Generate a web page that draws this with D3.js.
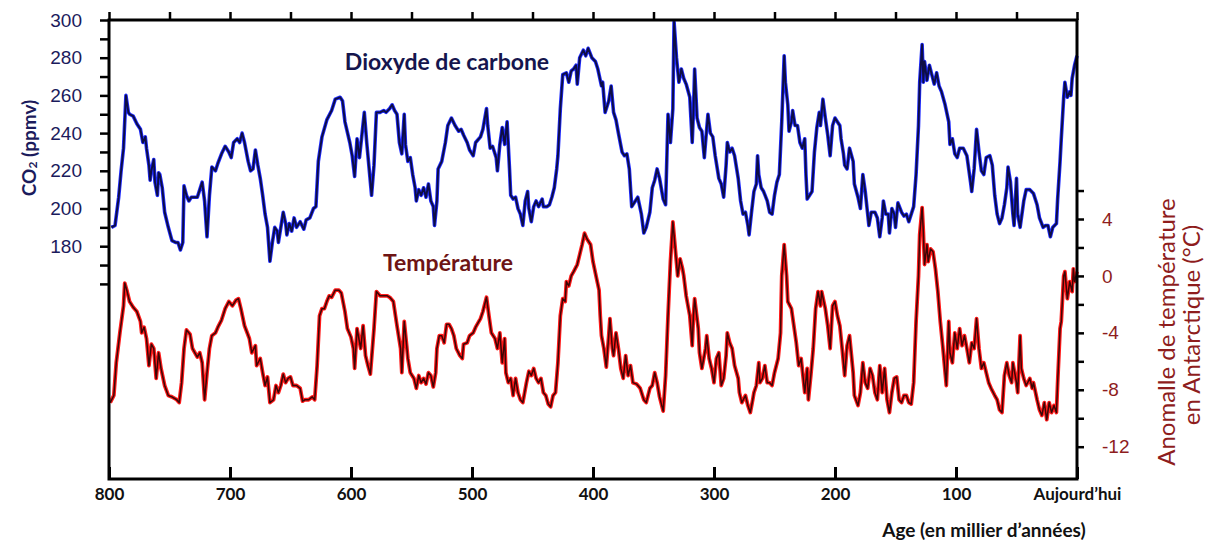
<!DOCTYPE html>
<html>
<head>
<meta charset="utf-8">
<script src="https://cdn.jsdelivr.net/npm/d3@7"></script>
<style>
  body { margin: 0; background: #fff; }
</style>
</head>
<body>
<div id="chart"></div>
<script>
// CO2 record: [age in ka, ppmv]
const co2Series = [
  [798,190],[795,191],[792,206],[790,220],[788,232],[786,260],[784,251],[783,250],[780,249],[777,245],
  [774,242],[772,235],[770,238],[769,232],[767,223],[766,215],[765,220],[763,226],[762,214],[760,207],
  [759,219],[758,218],[756,211],[754,198],[751,190],[748,183],[745,182],[743,182],[741,178],[739,182],
  [738,212],[736,207],[734,204],[732,206],[727,206],[723,214],[721,204],[719,185],[717,207],[715,222],
  [712,220],[710,224],[707,229],[704,233],[701,230],[699,227],[697,235],[694,237],[692,235],[690,240],
  [688,235],[685,225],[683,220],[681,221],[679,231],[677,223],[675,216],[673,207],[671,197],[669,190],
  [667,172],[665,182],[663,190],[661,188],[660,182],[658,190],[656,198],[654,192],[653,186],[651,192],
  [649,188],[647,195],[645,190],[642,193],[639,189],[637,194],[634,195],[631,200],[629,201],[627,225],
  [624,238],[620,247],[616,252],[613,258],[609,259],[607,257],[605,246],[601,235],[599,228],[597,217],
  [595,237],[593,227],[591,239],[589,251],[587,235],[585,221],[583,207],[581,223],[579,251],[576,251],
  [573,252],[571,251],[568,253],[566,255],[564,252],[562,250],[560,235],[558,229],[556,250],[555,234],
  [553,225],[551,227],[549,218],[547,211],[546,204],[544,210],[542,207],[540,211],[538,206],[536,213],
  [534,204],[532,201],[531,191],[529,204],[528,221],[525,225],[522,235],[520,244],[517,248],[514,244],
  [511,241],[509,242],[507,239],[504,235],[502,231],[499,228],[497,235],[493,238],[491,242],[488,253],
  [487,244],[485,232],[483,233],[480,227],[479,220],[477,234],[475,243],[473,234],[471,246],[469,221],
  [468,207],[466,205],[464,206],[462,200],[460,197],[458,191],[456,204],[454,209],[453,200],[451,193],
  [449,201],[447,204],[445,201],[442,205],[441,201],[438,201],[436,202],[434,206],[432,211],[430,221],
  [429,228],[427,253],[425,271],[422,272],[420,267],[418,273],[416,274],[414,276],[413,266],[411,280],
  [408,284],[406,281],[404,285],[401,280],[398,278],[396,274],[393,265],[392,267],[390,251],[387,257],
  [385,265],[383,251],[381,247],[379,240],[376,230],[374,228],[372,229],[370,221],[368,201],[365,204],
  [363,206],[360,197],[358,187],[356,190],[353,198],[351,211],[349,215],[347,221],[345,216],[342,205],
  [340,202],[338,250],[336,235],[334,253],[333,299],[331,280],[329,267],[327,274],[325,269],[323,266],
  [320,259],[318,235],[317,251],[316,274],[314,248],[312,243],[310,241],[308,227],[307,235],[305,250],
  [303,240],[301,238],[299,228],[296,216],[294,213],[292,206],[290,223],[289,235],[287,230],[285,232],
  [283,228],[280,216],[278,204],[276,197],[274,198],[272,191],[271,186],[269,198],[267,209],[265,213],
  [264,228],[263,218],[261,211],[259,209],[256,204],[254,198],[252,197],[250,207],[248,214],[246,218],
  [244,246],[242,281],[241,267],[239,255],[238,241],[236,246],[235,252],[233,244],[231,244],[229,235],
  [227,232],[225,237],[224,218],[223,205],[221,207],[219,209],[217,230],[215,243],[213,251],[212,244],
  [210,258],[208,248],[206,239],[204,228],[202,244],[200,248],[197,245],[196,244],[195,237],[193,229],
  [192,223],[190,221],[188,232],[185,225],[184,213],[181,206],[179,200],[177,218],[175,209],[173,197],
  [172,191],[170,198],[167,198],[165,195],[163,185],[161,195],[160,204],[158,197],[156,197],[155,187],
  [153,200],[151,197],[150,190],[148,203],[145,198],[143,196],[141,197],[139,193],[137,197],[135,201],
  [133,218],[131,244],[130,267],[128,287],[127,267],[126,278],[124,268],[122,276],[120,271],[118,266],
  [116,272],[114,265],[112,262],[109,255],[106,246],[105,234],[103,237],[101,229],[99,227],[97,232],
  [94,232],[91,228],[88,214],[87,209],[85,221],[83,242],[81,230],[79,220],[77,218],[75,227],
  [72,228],[70,223],[68,207],[66,197],[64,192],[62,195],[60,202],[58,211],[57,222],[55,214],
  [53,197],[52,191],[50,216],[49,197],[47,190],[44,204],[42,210],[39,210],[36,208],[33,202],
  [31,195],[28,190],[26,191],[24,191],[22,185],[20,190],[17,192],[16,205],[14,225],[13,237],
  [11,259],[10,267],[8,259],[6,262],[5,260],[4,269],[2,276],[0,281]
];

// Antarctic temperature anomaly: [age in ka, °C]
const tempSeries = [
  [799,-8.9],[796,-8.4],[794,-6.1],[791,-4.0],[788,-2.1],[787,-0.5],[785,-1.1],[783,-1.8],[780,-2.2],[777,-2.5],
  [774,-3.2],[773,-4.0],[771,-3.6],[769,-4.4],[767,-6.3],[765,-4.8],[763,-5.1],[761,-7.2],[759,-5.4],[757,-6.5],
  [754,-7.7],[751,-8.4],[748,-8.5],[744,-8.7],[742,-8.9],[740,-7.5],[738,-5.1],[736,-3.8],[733,-4.1],[731,-5.1],
  [729,-5.4],[727,-5.7],[725,-5.4],[723,-6.1],[721,-8.7],[719,-6.8],[717,-5.1],[715,-4.2],[712,-4.0],[710,-3.6],
  [707,-3.1],[704,-2.3],[701,-1.8],[698,-2.1],[695,-1.7],[693,-1.6],[691,-2.3],[688,-3.5],[684,-4.4],[682,-5.4],
  [679,-4.9],[678,-6.3],[675,-5.8],[673,-6.8],[671,-7.7],[669,-7.1],[667,-8.9],[664,-8.7],[662,-7.7],[660,-8.2],
  [658,-7.7],[656,-6.9],[654,-7.5],[652,-7.2],[650,-7.1],[648,-7.7],[645,-7.7],[642,-7.9],[640,-8.8],[638,-8.7],
  [635,-8.7],[632,-8.5],[630,-8.7],[628,-6.3],[626,-2.8],[624,-2.3],[622,-2.3],[620,-1.8],[618,-1.4],[616,-1.5],
  [613,-1.0],[610,-1.0],[608,-1.2],[605,-2.5],[603,-3.7],[600,-4.3],[598,-5.1],[597,-6.5],[595,-3.7],[592,-5.1],
  [590,-3.5],[588,-5.6],[586,-6.3],[584,-6.9],[581,-3.7],[579,-1.1],[576,-1.4],[573,-1.4],[570,-1.4],[568,-1.5],
  [565,-1.8],[562,-3.5],[559,-5.1],[558,-6.8],[556,-3.2],[554,-4.9],[553,-5.8],[551,-6.8],[548,-7.2],[546,-7.9],
  [544,-7.0],[542,-7.5],[540,-7.2],[538,-7.6],[536,-6.8],[534,-7.0],[532,-7.8],[530,-6.8],[529,-5.1],[527,-4.2],
  [525,-4.2],[523,-4.7],[521,-3.4],[519,-3.4],[517,-3.7],[515,-4.2],[513,-5.1],[510,-5.6],[508,-5.8],[507,-4.8],
  [504,-4.7],[502,-4.2],[499,-4.0],[497,-3.6],[493,-3.0],[491,-2.5],[488,-1.5],[486,-2.8],[484,-4.0],[481,-4.4],
  [479,-5.1],[477,-4.0],[475,-6.1],[473,-4.4],[472,-6.8],[470,-7.5],[468,-7.2],[466,-8.4],[464,-7.2],[462,-8.2],
  [460,-8.7],[458,-8.9],[455,-7.5],[453,-6.7],[451,-7.0],[449,-6.5],[447,-7.2],[445,-7.5],[443,-7.2],[441,-8.2],
  [439,-8.4],[437,-9.0],[435,-9.2],[433,-8.4],[431,-8.2],[429,-6.1],[427,-2.8],[425,-1.6],[423,-1.8],[422,-0.4],
  [420,-0.7],[418,0.0],[416,0.3],[413,0.8],[411,1.5],[409,2.2],[407,3.0],[405,2.6],[402,2.2],[400,1.0],
  [397,-0.2],[395,-1.0],[394,-2.8],[393,-4.2],[391,-5.1],[389,-6.4],[387,-4.2],[386,-3.0],[384,-5.1],[383,-5.6],
  [381,-4.0],[379,-5.1],[377,-6.5],[375,-7.2],[373,-5.6],[371,-7.0],[369,-6.3],[367,-7.5],[364,-7.6],[361,-7.9],
  [358,-8.7],[356,-8.9],[353,-7.9],[351,-7.7],[349,-6.8],[347,-7.5],[345,-8.5],[342,-9.5],[340,-7.0],[338,-2.8],
  [336,1.0],[334,3.8],[332,1.9],[330,0.0],[328,1.2],[326,0.5],[325,0.0],[323,-1.4],[320,-2.8],[318,-4.9],
  [317,-2.8],[316,-1.6],[313,-3.7],[312,-5.4],[310,-6.5],[307,-5.1],[306,-4.2],[304,-5.8],[302,-6.5],[300,-7.5],
  [298,-5.8],[296,-5.4],[294,-7.7],[292,-7.2],[290,-5.6],[289,-4.0],[287,-4.7],[285,-5.1],[283,-6.3],[280,-7.2],
  [279,-8.2],[277,-8.9],[274,-8.4],[272,-9.1],[270,-9.6],[268,-8.7],[267,-8.2],[265,-7.7],[263,-6.1],[262,-7.5],
  [260,-7.2],[258,-6.3],[256,-7.5],[254,-7.5],[252,-7.7],[250,-6.8],[247,-5.8],[245,-4.0],[244,0.0],[242,2.2],
  [240,0.0],[239,-1.8],[236,-2.3],[234,-3.5],[232,-4.7],[230,-6.3],[228,-5.8],[225,-8.2],[223,-6.5],[222,-8.7],
  [220,-7.0],[218,-5.1],[216,-2.3],[214,-1.1],[212,-2.1],[211,-1.1],[208,-2.3],[206,-3.5],[204,-5.1],[202,-2.1],
  [200,-1.8],[198,-2.8],[196,-3.5],[194,-5.2],[192,-7.0],[190,-4.9],[188,-4.2],[185,-6.8],[184,-8.4],[181,-9.1],
  [179,-8.2],[177,-6.1],[175,-7.5],[173,-7.9],[171,-6.5],[169,-7.0],[167,-8.2],[165,-8.7],[163,-6.3],[161,-8.2],
  [159,-6.5],[157,-8.7],[155,-9.6],[153,-8.2],[151,-7.2],[149,-7.1],[147,-8.7],[145,-8.9],[143,-8.4],[141,-8.4],
  [139,-8.9],[137,-9.0],[135,-7.5],[133,-3.2],[131,0.0],[130,2.9],[128,4.8],[127,3.1],[126,0.8],[124,2.2],
  [123,1.0],[121,1.9],[119,1.7],[117,0.5],[115,-1.1],[113,-3.2],[111,-4.9],[108,-7.7],[106,-3.2],[105,-5.4],
  [103,-6.1],[101,-4.0],[99,-5.1],[97,-3.7],[95,-4.9],[93,-4.2],[91,-5.1],[89,-6.1],[87,-4.7],[85,-5.1],
  [83,-3.0],[81,-5.1],[79,-6.5],[77,-6.1],[75,-6.8],[73,-7.5],[71,-7.9],[68,-8.4],[66,-8.7],[64,-9.4],
  [62,-9.6],[60,-7.0],[58,-6.1],[56,-7.0],[54,-7.5],[53,-6.1],[50,-7.5],[49,-8.2],[47,-4.2],[46,-6.5],
  [44,-7.2],[42,-7.7],[39,-7.2],[37,-7.9],[36,-7.5],[33,-8.7],[31,-9.4],[29,-9.8],[27,-8.9],[25,-10.1],
  [23,-8.9],[21,-9.6],[19,-9.1],[17,-9.6],[16,-7.5],[14,-3.7],[13,-3.2],[11,0.0],[10,0.3],[8,-1.6],
  [6,-0.4],[4,-1.1],[3,0.5],[2,-0.4],[0,0.3]
];

// Axis ticks and labels
const ageTicks = [800, 700, 600, 500, 400, 300, 200, 100, 0];
const ageLabels = ["800", "700", "600", "500", "400", "300", "200", "100", "Aujourd’hui"];
const ageTopTicks = [800, 750, 700, 650, 600, 550, 500, 450, 400, 350, 300, 250, 200, 150, 100, 50, 0];
const co2Ticks = [160, 170, 180, 190, 200, 210, 220, 230, 240, 250, 260, 270, 280, 290, 300];
const co2Labels = [180, 200, 220, 240, 260, 280, 300];
const tempTicks = [-12, -10, -8, -6, -4, -2, 0, 2, 4, 6];
const tempLabels = [-12, -8, -4, 0, 4];

// Chart dimensions and margins
const width = 1205;
const height = 543;
const marginTop = 20;
const marginRight = 128;
const marginBottom = 64;
const marginLeft = 109;

const navy = "#1b1b5c";
const darkRed = "#8e1d1d";

const x = d3.scaleLinear()
    .domain([800, 0])
    .range([marginLeft, width - marginRight]);

// CO2 occupies the upper part of the frame
const yCo2 = d3.scaleLinear()
    .domain([180, 300])
    .range([246.2, marginTop]);

// temperature occupies the lower part
const yTemp = d3.scaleLinear()
    .domain([-12, 4])
    .range([446.7, 219]);

const svg = d3.select("#chart")
  .append("svg")
    .attr("width", width)
    .attr("height", height)
    .attr("viewBox", [0, 0, width, height])
    .style("background", "#fff");

// Lines: bright colour underneath, dark line on top
const co2Line = d3.line().x(d => x(d[0])).y(d => yCo2(d[1]));
const tempLine = d3.line().x(d => x(d[0])).y(d => yTemp(d[1]));

svg.append("path")
    .attr("d", co2Line(co2Series))
    .attr("fill", "none")
    .attr("stroke", "#1f2bff")
    .attr("stroke-width", 3.6)
    .attr("stroke-linejoin", "round");
svg.append("path")
    .attr("d", co2Line(co2Series))
    .attr("fill", "none")
    .attr("stroke", "#0d0d45")
    .attr("stroke-width", 1.9)
    .attr("stroke-linejoin", "round");

svg.append("path")
    .attr("d", tempLine(tempSeries))
    .attr("fill", "none")
    .attr("stroke", "#ff1a1a")
    .attr("stroke-width", 3.8)
    .attr("stroke-linejoin", "round");
svg.append("path")
    .attr("d", tempLine(tempSeries))
    .attr("fill", "none")
    .attr("stroke", "#3d0606")
    .attr("stroke-width", 1.5)
    .attr("stroke-linejoin", "round");

// Frame
svg.append("rect")
    .attr("x", marginLeft)
    .attr("y", marginTop)
    .attr("width", width - marginLeft - marginRight)
    .attr("height", height - marginTop - marginBottom)
    .attr("fill", "none")
    .attr("stroke", "#000")
    .attr("stroke-width", 3);

// Top ticks
svg.append("g")
    .attr("transform", `translate(0,${marginTop})`)
    .call(d3.axisTop(x).tickValues(ageTopTicks).tickSize(8).tickFormat(""))
    .call(g => g.select(".domain").remove())
    .call(g => g.selectAll(".tick line").attr("stroke", "#000").attr("stroke-width", 2.5));

// Bottom axis
svg.append("g")
    .attr("transform", `translate(0,${height - marginBottom})`)
    .call(d3.axisBottom(x).tickValues(ageTicks).tickSize(-12).tickPadding(9)
        .tickFormat((d, i) => ageLabels[i]))
    .call(g => g.select(".domain").remove())
    .call(g => g.selectAll(".tick line").attr("stroke", "#000").attr("stroke-width", 3))
    .call(g => g.selectAll(".tick text")
        .attr("fill", "#111")
        .attr("font-family", "Lato, sans-serif")
        .attr("font-weight", 700)
        .attr("font-size", 17));

// Left CO2 axis
svg.append("g")
    .attr("transform", `translate(${marginLeft},0)`)
    .call(d3.axisLeft(yCo2).tickValues(co2Ticks).tickSize(9).tickPadding(18)
        .tickFormat(d => co2Labels.includes(d) ? d : ""))
    .call(g => g.select(".domain").remove())
    .call(g => g.selectAll(".tick line").attr("stroke", "#000").attr("stroke-width", 2.5))
    .call(g => g.selectAll(".tick text")
        .attr("fill", navy)
        .attr("font-family", "Liberation Sans, Arial, sans-serif")
        .attr("font-size", 19));

// Right temperature axis
svg.append("g")
    .attr("transform", `translate(${width - marginRight},0)`)
    .call(d3.axisRight(yTemp).tickValues(tempTicks).tickSize(7).tickPadding(18)
        .tickFormat(d => tempLabels.includes(d) ? String(d) : ""))
    .call(g => g.select(".domain").remove())
    .call(g => g.selectAll(".tick line").attr("stroke", "#000").attr("stroke-width", 2.5))
    .call(g => g.selectAll(".tick text")
        .attr("fill", darkRed)
        .attr("font-family", "Liberation Sans, Arial, sans-serif")
        .attr("font-size", 19));

// Axis titles
const co2Title = svg.append("text")
    .attr("transform", "translate(28,148) rotate(-90)")
    .attr("text-anchor", "middle")
    .attr("dominant-baseline", "central")
    .attr("fill", navy)
    .attr("font-family", "Lato, sans-serif")
    .attr("font-weight", 700)
    .attr("font-size", 19);
co2Title.append("tspan").text("CO");
co2Title.append("tspan").attr("font-size", 12).attr("dy", 4).text("2");
co2Title.append("tspan").attr("dy", -4).text(" (ppmv)");

svg.append("text")
    .attr("transform", "translate(1165,332) rotate(-90)")
    .attr("text-anchor", "middle")
    .attr("dominant-baseline", "central")
    .attr("fill", darkRed)
    .attr("font-family", "Lato, sans-serif")
    .attr("font-size", 24)
    .text("Anomalle de température");

svg.append("text")
    .attr("transform", "translate(1190,325) rotate(-90)")
    .attr("text-anchor", "middle")
    .attr("dominant-baseline", "central")
    .attr("fill", darkRed)
    .attr("font-family", "Lato, sans-serif")
    .attr("font-size", 24)
    .text("en Antarctique (°C)");

svg.append("text")
    .attr("x", 984)
    .attr("y", 537)
    .attr("text-anchor", "middle")
    .attr("fill", "#111")
    .attr("font-family", "Lato, sans-serif")
    .attr("font-weight", 700)
    .attr("font-size", 19)
    .text("Age (en millier d’années)");

// Series labels inside the plot
svg.append("text")
    .attr("x", 447)
    .attr("y", 70)
    .attr("text-anchor", "middle")
    .attr("fill", "#15154d")
    .attr("font-family", "Lato, sans-serif")
    .attr("font-weight", 700)
    .attr("font-size", 23)
    .text("Dioxyde de carbone");

svg.append("text")
    .attr("x", 448)
    .attr("y", 271)
    .attr("text-anchor", "middle")
    .attr("fill", "#6e1414")
    .attr("font-family", "Lato, sans-serif")
    .attr("font-weight", 700)
    .attr("font-size", 23)
    .text("Température");
</script>
</body>
</html>
